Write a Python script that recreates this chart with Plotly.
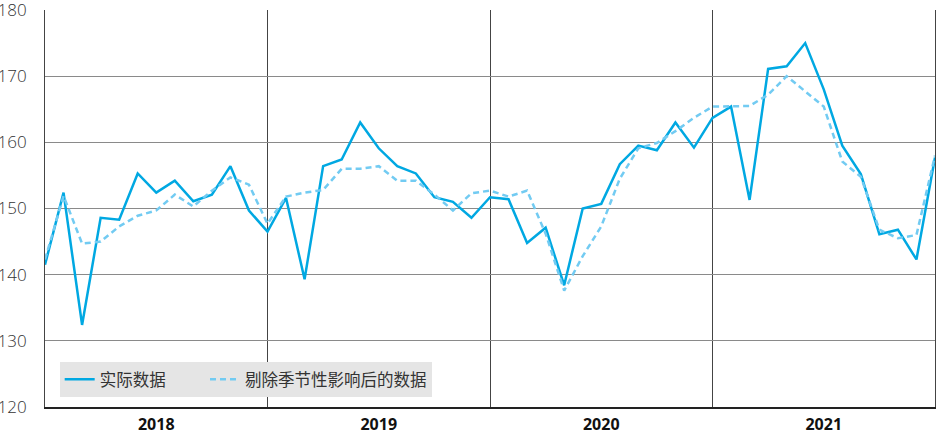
import plotly.graph_objects as go

years = ["2018", "2019", "2020", "2021"]
months_idx = list(range(49))

actual = [141.5, 152.4, 132.4, 148.6, 148.3, 155.3, 152.4, 154.2, 151.1, 152.1, 156.4, 149.7,
          146.5, 151.6, 139.3, 156.4, 157.4, 163.0, 159.1, 156.4, 155.3, 151.7, 151.0, 148.6,
          151.7, 151.4, 144.8, 147.1, 138.4, 150.0, 150.7, 156.7, 159.5, 158.8, 163.0, 159.2,
          163.7, 165.4, 151.3, 171.1, 171.5, 175.0, 168.0, 159.5, 155.2, 146.1, 146.8, 142.3,
          157.7]

adjusted = [142.3, 151.9, 144.7, 145.0, 147.3, 148.9, 149.7, 152.1, 150.3, 152.7, 154.7, 153.6,
            147.7, 151.8, 152.4, 152.8, 156.0, 156.0, 156.4, 154.2, 154.2, 152.1, 149.7, 152.3,
            152.7, 151.8, 152.7, 146.2, 137.6, 142.8, 147.3, 154.5, 159.1, 159.9, 161.7, 163.7,
            165.4, 165.4, 165.5, 167.2, 170.0, 167.7, 165.4, 157.1, 154.8, 146.8, 145.5, 146.0,
            158.0]

names = ["实际数据", "剔除季节性影响后的数据"]

font_family = "Open Sans, Noto Sans CJK SC, sans-serif"
pad = "\u00a0" * 8

fig = go.Figure()
fig.add_trace(go.Scatter(x=months_idx, y=actual, mode="lines", name=names[0] + pad,
                         line=dict(color="#00a8e2", width=2.5)))
fig.add_trace(go.Scatter(x=months_idx, y=adjusted, mode="lines", name=names[1],
                         line=dict(color="#72cbf2", width=2.5, dash="6px,4px")))

fig.update_layout(
    width=937, height=431,
    margin=dict(l=45, r=2, t=10, b=24, autoexpand=False),
    paper_bgcolor="white", plot_bgcolor="white",
    font=dict(family=font_family, color="#333333", size=15),
    showlegend=True,
    legend=dict(orientation="h", x=0.0165, y=0.025, xanchor="left", yanchor="bottom",
                bgcolor="#e5e5e5", font=dict(size=16.5, color="#333333"),
                itemwidth=30, tracegroupgap=0),
)

fig.update_xaxes(
    range=[0, 48], automargin=False,
    tickmode="array", tickvals=[6, 18, 30, 42],
    ticktext=["<b>%s</b>" % y for y in years],
    tickfont=dict(size=16, color="#111111"),
    ticks="", showgrid=False, zeroline=False, ticklabelstandoff=2,
    ticklabeloverflow="allow",
    showline=True, linecolor="#222222", linewidth=1.5,
    minor=dict(tickmode="linear", tick0=0, dtick=12, showgrid=True,
               gridcolor="#444444", gridwidth=1, ticks=""),
)
fig.update_yaxes(
    range=[120, 180], automargin=False, tickmode="linear", tick0=120, dtick=10,
    tickfont=dict(size=17, color="#333333", weight=300),
    showgrid=True, gridcolor="#8a8a8a", gridwidth=1, zeroline=False,
    showline=True, linecolor="#444444", linewidth=1, mirror=True,
    ticks="", ticklabelstandoff=14, ticklabeloverflow="allow",
)

fig.write_html("out.html", config={"displayModeBar": False},
               post_script="document.body.style.margin='0';")
